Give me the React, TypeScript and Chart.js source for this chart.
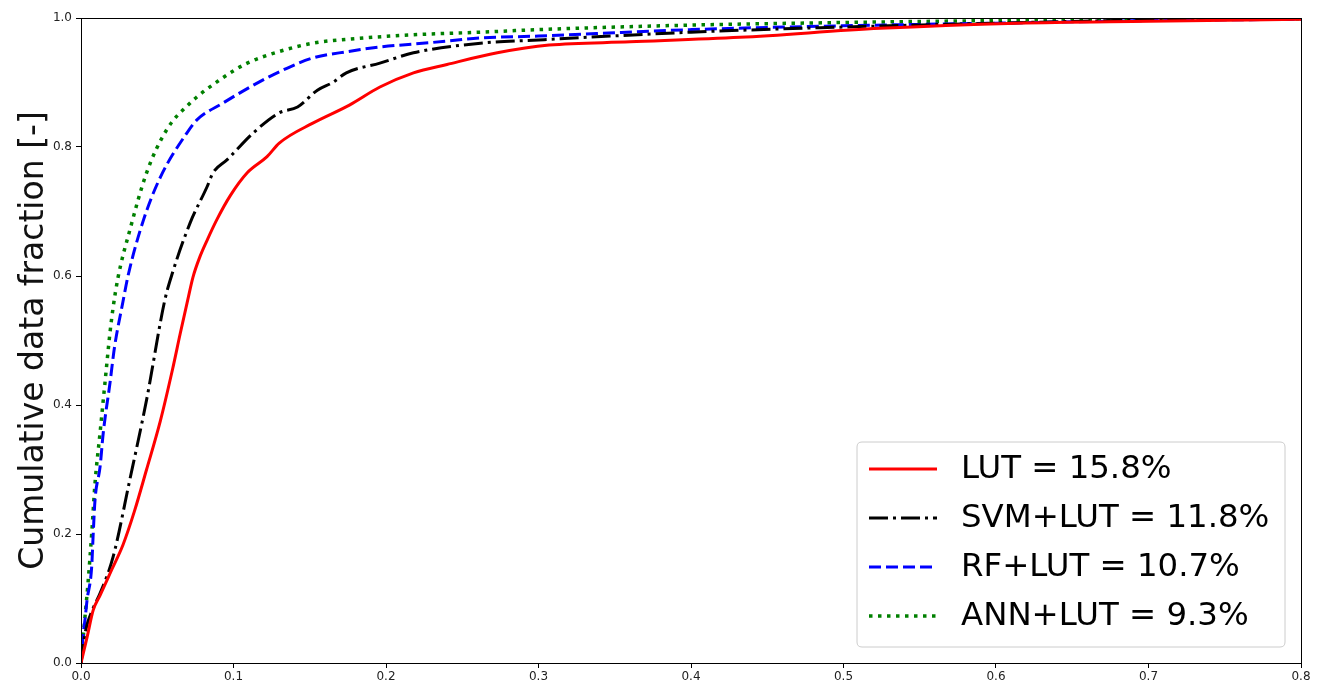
import React, { useEffect, useRef } from "react";
import { Chart, registerables } from "chart.js";

Chart.register(...registerables);

// ---- Data ----
const lutX = [0, 0.004, 0.008, 0.0125, 0.02, 0.0275, 0.035, 0.043, 0.052, 0.06, 0.065, 0.07, 0.0734, 0.078, 0.0826, 0.089, 0.098, 0.109, 0.122, 0.13, 0.152, 0.176, 0.196, 0.218, 0.24, 0.273, 0.307, 0.36, 0.432, 0.524, 0.614, 0.7, 0.8];
const lutY = [0, 0.04, 0.082, 0.105, 0.144, 0.183, 0.235, 0.3, 0.375, 0.455, 0.51, 0.563, 0.598, 0.63, 0.655, 0.687, 0.725, 0.76, 0.785, 0.806, 0.837, 0.865, 0.893, 0.915, 0.928, 0.946, 0.958, 0.963, 0.97, 0.984, 0.992, 0.995, 0.998];

const svmX = [0, 0.003, 0.008, 0.0125, 0.021, 0.032, 0.043, 0.055, 0.06, 0.0715, 0.0826, 0.0866, 0.0957, 0.113, 0.13, 0.142, 0.155, 0.165, 0.174, 0.196, 0.218, 0.262, 0.3, 0.4, 0.5, 0.6, 0.7, 0.8];
const svmY = [0, 0.05, 0.085, 0.108, 0.164, 0.284, 0.408, 0.563, 0.605, 0.682, 0.738, 0.76, 0.78, 0.822, 0.853, 0.862, 0.888, 0.9, 0.915, 0.93, 0.946, 0.961, 0.966, 0.978, 0.986, 0.992, 0.997, 0.999];

const rfX = [0, 0.0015, 0.0026, 0.004, 0.007, 0.008, 0.0092, 0.0125, 0.0146, 0.019, 0.022, 0.0275, 0.031, 0.041, 0.052, 0.0695, 0.076, 0.093, 0.117, 0.135, 0.152, 0.175, 0.196, 0.23, 0.262, 0.3, 0.4, 0.5, 0.6, 0.7, 0.8];
const rfY = [0, 0.046, 0.067, 0.098, 0.149, 0.2, 0.253, 0.304, 0.357, 0.434, 0.49, 0.56, 0.602, 0.687, 0.753, 0.822, 0.842, 0.868, 0.901, 0.922, 0.938, 0.948, 0.955, 0.962, 0.969, 0.972, 0.982, 0.988, 0.992, 0.996, 0.998];

const annX = [0, 0.0026, 0.0046, 0.007, 0.0092, 0.0125, 0.0157, 0.019, 0.021, 0.0243, 0.032, 0.043, 0.056, 0.0715, 0.091, 0.109, 0.13, 0.152, 0.18, 0.218, 0.262, 0.3, 0.4, 0.5, 0.6, 0.7, 0.8];
const annY = [0, 0.071, 0.124, 0.2, 0.279, 0.357, 0.434, 0.512, 0.55, 0.598, 0.671, 0.76, 0.826, 0.868, 0.904, 0.93, 0.948, 0.961, 0.968, 0.974, 0.978, 0.982, 0.989, 0.993, 0.996, 0.998, 0.999];

const seriesLabels = ["LUT = 15.8%", "SVM+LUT = 11.8%", "RF+LUT = 10.7%", "ANN+LUT = 9.3%"];
const seriesColors = ["#ff0000", "#000000", "#0000ff", "#008000"];
const seriesDashes: number[][] = [[], [19, 5, 3, 5], [12, 5], [3.5, 5.5]];
const seriesWidths = [3, 3, 3, 3.5];

const xTicks = [0, 0.1, 0.2, 0.3, 0.4, 0.5, 0.6, 0.7, 0.8];
const yTicks = [0, 0.2, 0.4, 0.6, 0.8, 1.0];
const yTitle = "Cumulative data fraction [-]";

const FONT = "'DejaVu Sans', sans-serif";

const zip = (xs: number[], ys: number[]) => xs.map((x, i) => ({ x, y: ys[i] }));
const seriesData = [zip(lutX, lutY), zip(svmX, svmY), zip(rfX, rfY), zip(annX, annY)];

const framePlugin = {
  id: "frameAndLegend",
  afterDatasetsDraw(chart: any) {
    const { ctx, chartArea } = chart;
    ctx.save();
    ctx.strokeStyle = "#000";
    ctx.lineWidth = 1;
    ctx.setLineDash([]);
    ctx.strokeRect(
      Math.round(chartArea.left) + 0.5,
      Math.round(chartArea.top) + 0.5,
      Math.round(chartArea.right - chartArea.left),
      Math.round(chartArea.bottom - chartArea.top)
    );
    ctx.restore();
  },
  afterDraw(chart: any) {
    const { ctx, chartArea } = chart;
    const w = 428;
    const h = 205;
    const x0 = chartArea.right - 16 - w;
    const y0 = chartArea.bottom - 16 - h;
    ctx.save();
    const r = 5;
    ctx.beginPath();
    ctx.moveTo(x0 + r, y0);
    ctx.lineTo(x0 + w - r, y0);
    ctx.quadraticCurveTo(x0 + w, y0, x0 + w, y0 + r);
    ctx.lineTo(x0 + w, y0 + h - r);
    ctx.quadraticCurveTo(x0 + w, y0 + h, x0 + w - r, y0 + h);
    ctx.lineTo(x0 + r, y0 + h);
    ctx.quadraticCurveTo(x0, y0 + h, x0, y0 + h - r);
    ctx.lineTo(x0, y0 + r);
    ctx.quadraticCurveTo(x0, y0, x0 + r, y0);
    ctx.closePath();
    ctx.fillStyle = "rgba(255,255,255,0.85)";
    ctx.fill();
    ctx.strokeStyle = "#cccccc";
    ctx.lineWidth = 1;
    ctx.stroke();
    ctx.font = `32.4px ${FONT}`;
    ctx.textBaseline = "middle";
    ctx.textAlign = "left";
    seriesLabels.forEach((label, i) => {
      const y = y0 + 27 + i * 49;
      ctx.beginPath();
      ctx.setLineDash(seriesDashes[i]);
      ctx.strokeStyle = seriesColors[i];
      ctx.lineWidth = seriesWidths[i];
      ctx.moveTo(x0 + 12, y);
      ctx.lineTo(x0 + 80, y);
      ctx.stroke();
      ctx.setLineDash([]);
      ctx.fillStyle = "#000";
      ctx.fillText(label, x0 + 104, y + 1);
    });
    ctx.restore();
  },
};

export default function App() {
  const canvasRef = useRef<HTMLCanvasElement | null>(null);

  useEffect(() => {
    const canvas = canvasRef.current;
    if (!canvas) return;
    const chart = new Chart(canvas, {
      type: "line",
      data: {
        datasets: seriesLabels.map((label, i) => ({
          label,
          data: seriesData[i],
          borderColor: seriesColors[i],
          backgroundColor: seriesColors[i],
          borderWidth: seriesWidths[i],
          borderDash: seriesDashes[i],
          pointRadius: 0,
          fill: false,
          tension: 0,
          cubicInterpolationMode: "monotone" as const,
        })),
      },
      options: {
        animation: false,
        responsive: false,
        maintainAspectRatio: false,
        layout: { padding: { top: 18, right: 20, left: 0, bottom: 0 } },
        plugins: {
          legend: { display: false },
          tooltip: { enabled: false },
        },
        scales: {
          x: {
            type: "linear",
            min: 0,
            max: 0.8,
            afterFit: (s: any) => {
              s.height = 23;
            },
            afterBuildTicks: (s: any) => {
              s.ticks = xTicks.map((v) => ({ value: v }));
            },
            ticks: {
              color: "#222",
              font: { family: FONT, size: 12 },
              padding: 2,
              maxRotation: 0,
              callback: (v: any) => Number(v).toFixed(1),
            },
            grid: {
              drawOnChartArea: false,
              drawTicks: true,
              tickLength: 5,
              color: "#000",
            },
            border: { display: true, color: "#000", width: 1 },
          },
          y: {
            type: "linear",
            min: 0,
            max: 1,
            afterFit: (s: any) => {
              s.width = 81;
            },
            afterBuildTicks: (s: any) => {
              s.ticks = yTicks.map((v) => ({ value: v }));
            },
            ticks: {
              color: "#222",
              font: { family: FONT, size: 12 },
              padding: 4,
              callback: (v: any) => Number(v).toFixed(1),
            },
            grid: {
              drawOnChartArea: false,
              drawTicks: true,
              tickLength: 5,
              color: "#000",
            },
            border: { display: true, color: "#000", width: 1 },
            title: {
              display: true,
              text: yTitle,
              color: "#111",
              font: { family: FONT, size: 33 },
              padding: { top: 15, bottom: 0 },
            },
          },
        },
      },
      plugins: [framePlugin],
    });
    return () => chart.destroy();
  }, []);

  return (
    <div style={{ position: "fixed", left: 0, top: 0, width: 1321, height: 686, background: "#fff" }}>
      <canvas ref={canvasRef} width={1321} height={686} style={{ display: "block" }} />
    </div>
  );
}
